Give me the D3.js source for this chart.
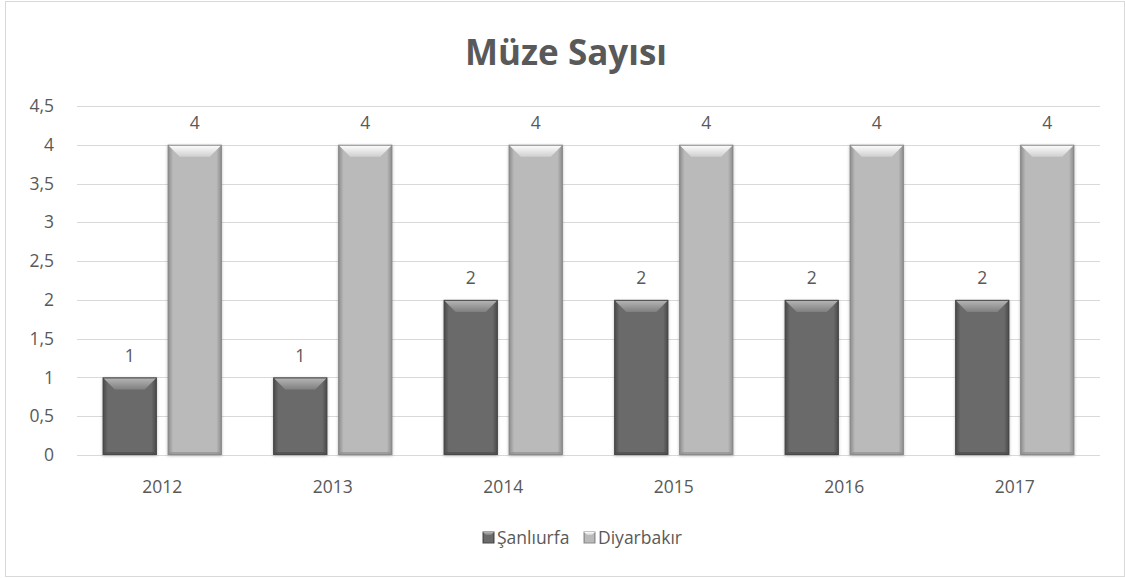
<!DOCTYPE html>
<html>
<head>
<meta charset="utf-8">
<script src="https://cdn.jsdelivr.net/npm/d3@7"></script>
<style>
  html, body { margin: 0; padding: 0; background: #fff; }
  svg text { font-family: "Open Sans", "Noto Sans", sans-serif; fill: #595959; }
</style>
</head>
<body>
<svg id="chart" width="1125" height="578"></svg>
<script>
const years = ["2012", "2013", "2014", "2015", "2016", "2017"];
const sanliurfa = [1, 1, 2, 2, 2, 2];
const diyarbakir = [4, 4, 4, 4, 4, 4];
const seriesNames = ["Şanlıurfa", "Diyarbakır"];
const yTicks = [0, 0.5, 1, 1.5, 2, 2.5, 3, 3.5, 4, 4.5];

const series = [
  { name: seriesNames[0], values: sanliurfa, base: "#6b6b6b", edge: "#484848", top: "#808080", topHi: "#b8b8b8" },
  { name: seriesNames[1], values: diyarbakir, base: "#bababa", edge: "#8a8a8a", top: "#cfcfcf", topHi: "#ffffff" }
];

const svg = d3.select("#chart");
const W = 1125, H = 578;
const margin = { left: 77, right: 25, top: 106, bottom: 123 };

// chart frame
svg.append("rect").attr("x", 5.5).attr("y", 1.5).attr("width", W - 6).attr("height", H - 3)
  .attr("fill", "#fff").attr("stroke", "#d9d9d9").attr("stroke-width", 1);

const x0 = d3.scaleBand().domain(years).range([margin.left, W - margin.right]).paddingInner(0).paddingOuter(0);
const y = d3.scaleLinear().domain([0, 4.5]).range([H - margin.bottom, margin.top]);

const defs = svg.append("defs");
series.forEach((s, i) => {
  const g = defs.append("linearGradient").attr("id", "side" + i).attr("x1", 0).attr("x2", 1).attr("y1", 0).attr("y2", 0);
  g.append("stop").attr("offset", "0%").attr("stop-color", s.edge);
  g.append("stop").attr("offset", "10%").attr("stop-color", s.base);
  g.append("stop").attr("offset", "90%").attr("stop-color", s.base);
  g.append("stop").attr("offset", "100%").attr("stop-color", s.edge);
  const t = defs.append("linearGradient").attr("id", "top" + i).attr("x1", 0).attr("x2", 0).attr("y1", 0).attr("y2", 1);
  t.append("stop").attr("offset", "0%").attr("stop-color", s.topHi);
  t.append("stop").attr("offset", "100%").attr("stop-color", s.top);
});
const shadow = defs.append("filter").attr("id", "shadow").attr("x", "-20%").attr("y", "-20%").attr("width", "140%").attr("height", "140%");
shadow.append("feDropShadow").attr("dx", 0).attr("dy", 1).attr("stdDeviation", 1.5).attr("flood-color", "#000").attr("flood-opacity", 0.25);

// gridlines
svg.append("g").selectAll("line").data(yTicks).join("line")
  .attr("x1", margin.left).attr("x2", W - margin.right)
  .attr("y1", d => Math.round(y(d)) + 0.5).attr("y2", d => Math.round(y(d)) + 0.5)
  .attr("stroke", "#d9d9d9").attr("stroke-width", 1);

// y axis labels
const fmt = d => String(d).replace(".", ",");
svg.append("g").selectAll("text").data(yTicks).join("text")
  .attr("x", 54).attr("y", d => y(d)).attr("dy", "0.35em")
  .attr("text-anchor", "end").attr("font-size", 17.5).text(fmt);

// bars
const barW = 54, gap = 11;
const x1 = d3.scaleOrdinal().domain([0, 1]).range([-(barW + gap / 2), gap / 2]);
const bev = 12;

series.forEach((s, i) => {
  const g = svg.append("g");
  years.forEach((yr, j) => {
    const v = s.values[j];
    const cx = x0(yr) + x0.bandwidth() / 2;
    const bx = cx + x1(i);
    const by = y(v);
    const bh = y(0) - by;
    const bg = g.append("g").attr("filter", "url(#shadow)");
    bg.append("rect").attr("x", bx).attr("y", by).attr("width", barW).attr("height", bh)
      .attr("fill", `url(#side${i})`);
    // top bevel
    bg.append("path")
      .attr("d", `M${bx},${by} L${bx + barW},${by} L${bx + barW - bev},${by + bev} L${bx + bev},${by + bev} Z`)
      .attr("fill", `url(#top${i})`);
    // bottom bevel
    bg.append("path")
      .attr("d", `M${bx},${by + bh} L${bx + barW},${by + bh} L${bx + barW - 3},${by + bh - 3} L${bx + 3},${by + bh - 3} Z`)
      .attr("fill", s.edge).attr("opacity", 0.6);
    bg.append("rect").attr("x", bx + 0.5).attr("y", by + 0.5).attr("width", barW - 1).attr("height", bh - 1)
      .attr("fill", "none").attr("stroke", s.edge).attr("stroke-width", 1);
    // value label
    svg.append("text").attr("x", bx + barW / 2).attr("y", by - 22).attr("dy", "0.35em")
      .attr("text-anchor", "middle").attr("font-size", 17.5).text(v);
  });
});

// x axis labels
svg.append("g").selectAll("text").data(years).join("text")
  .attr("x", d => x0(d) + x0.bandwidth() / 2).attr("y", 487).attr("dy", "0.35em")
  .attr("text-anchor", "middle").attr("font-size", 17.5).text(d => d);

// title
svg.append("text").attr("x", 566).attr("y", 53).attr("dy", "0.35em")
  .attr("text-anchor", "middle").attr("font-size", 35).attr("font-weight", "bold").text("Müze Sayısı");

// legend
const legendX = [483, 584];
series.forEach((s, i) => {
  const lg = svg.append("g").attr("transform", `translate(${legendX[i]},${532})`);
  lg.append("rect").attr("width", 11).attr("height", 11).attr("fill", `url(#side${i})`).attr("stroke", s.edge);
  lg.append("path").attr("d", "M0,0 L11,0 L8,3 L3,3 Z").attr("fill", `url(#top${i})`);
  lg.append("text").attr("x", 14).attr("y", 5.5).attr("dy", "0.35em").attr("font-size", 17.5).text(s.name);
});
</script>
</body>
</html>
